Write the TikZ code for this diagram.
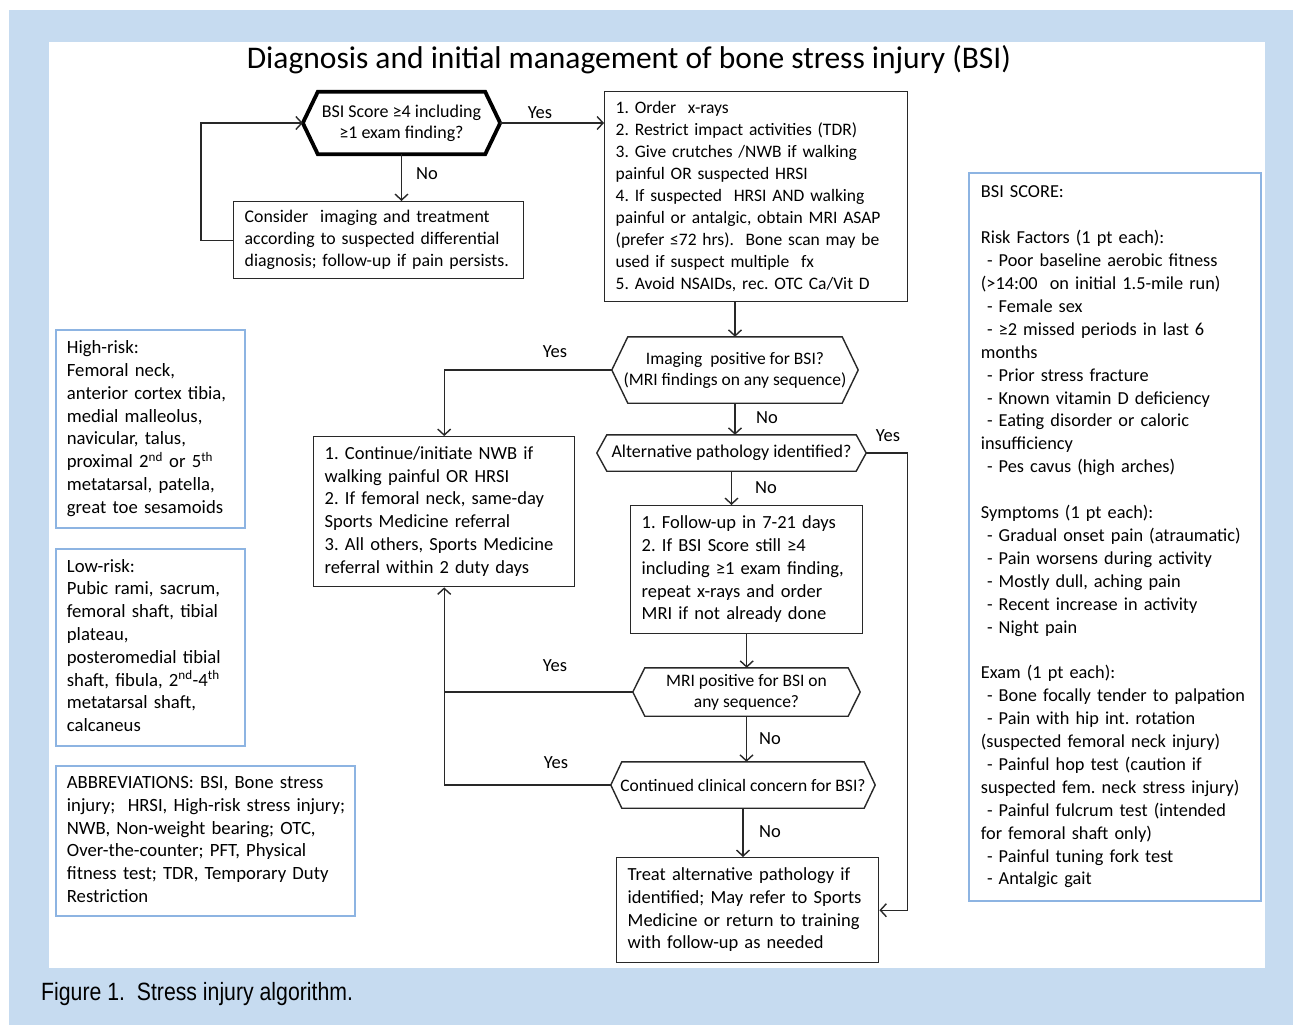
\documentclass[tikz,border=0pt]{standalone}
\usepackage{fontspec}
\setmainfont{Carlito}
\newfontfamily\capfont[FakeStretch=0.85]{Liberation Sans}
\usetikzlibrary{arrows.meta}
\definecolor{bgblue}{RGB}{198,219,240}
\definecolor{boxblue}{RGB}{141,180,226}
\definecolor{ink}{RGB}{40,40,40}
\frenchspacing
\newcommand{\hexline}[3][]{\draw[ink,line width=1.4pt,#1] ([xshift=#3]#2.north west) -- ([xshift=-#3]#2.north east) -- (#2.east) -- ([xshift=-#3]#2.south east) -- ([xshift=#3]#2.south west) -- (#2.west) -- cycle;}
\newcommand{\blines}[1]{\begin{tabular}{@{}l@{}}#1\end{tabular}}
\begin{document}
\begin{tikzpicture}[x=1pt,y=-1pt,
  box/.style={draw=ink, line width=1.4pt, anchor=north west, align=left, inner xsep=11pt, inner ysep=0pt, font=\fontsize{18.5}{22.8}\selectfont},
  bluebox/.style={box, draw=boxblue, line width=1.8pt, font=\fontsize{18.7}{22.8}\selectfont},
  hexnode/.style={inner sep=0pt, align=center, font=\fontsize{17.5}{21}\selectfont},
  lbl/.style={font=\fontsize{18.5}{20}\selectfont, inner sep=0pt},
  conn/.style={draw=ink, line width=1.4pt},
  arr/.style={conn, -{Straight Barb[length=6pt,width=13pt]}}]
\useasboundingbox (0,0) rectangle (1293,1025);
\fill[bgblue] (9,10) rectangle (1293,1025);
\fill[white] (49,42) rectangle (1265,968);

\node[anchor=base, font=\fontsize{31.5}{36}\selectfont, inner sep=0pt] (title) at (629,68) {Diagnosis and initial management of bone stress injury (BSI)};

% top decision
\node[hexnode, minimum width=197pt, minimum height=62pt, font=\fontsize{18}{21}\selectfont] (h1) at (401.5,123) {BSI Score ≥4 including\\≥1 exam finding?};
\hexline[line width=3.8pt,black]{h1}{15}

\node[box, font=\fontsize{17.5}{22}\selectfont, text width=281pt, minimum height=210pt] (b1) at (604,91) {\blines{1. Order\ \ x-rays\\2. Restrict impact activities (TDR)\\3. Give crutches /NWB if walking\\painful OR suspected HRSI\\4. If suspected\ \ HRSI AND walking\\painful or antalgic, obtain MRI ASAP\\(prefer ≤72 hrs).\ \ Bone scan may be\\used if suspect multiple\ \ fx\\5. Avoid NSAIDs, rec. OTC Ca/Vit D}};

\node[box, font=\fontsize{17.8}{22}\selectfont, text width=268pt, minimum height=77pt] (cons) at (233,201) {\blines{Consider\ \ imaging and treatment\\according to suspected differential\\diagnosis; follow-up if pain persists.}};

% imaging decision
\node[hexnode] (img) at (735,370) [minimum width=246pt, minimum height=66pt] {Imaging\ \ positive for BSI?\\(MRI findings on any sequence)};
\hexline{img}{16}

\node[hexnode, font=\fontsize{18}{20}\selectfont] (alt) at (731.5,453) [minimum width=269pt, minimum height=36pt] {Alternative pathology identified?};
\hexline{alt}{10}

\node[box, text width=239pt, minimum height=150pt] (cont) at (313,436) {\blines{1. Continue/initiate NWB if\\walking painful OR HRSI\\2. If femoral neck, same-day\\Sports Medicine referral\\3. All others, Sports Medicine\\referral within 2 duty days}};

\node[box, text width=210pt, minimum height=128pt] (fup) at (630,505) {\blines{1. Follow-up in 7-21 days\\2. If BSI Score still ≥4\\including ≥1 exam finding,\\repeat x-rays and order\\MRI if not already done}};

\node[hexnode] (mri) at (746.5,692) [minimum width=227pt, minimum height=48pt] {MRI positive for BSI on\\any sequence?};
\hexline{mri}{12}

\node[hexnode] (ccc) at (743,785) [minimum width=264pt, minimum height=46pt] {Continued clinical concern for BSI?};
\hexline{ccc}{11}

\node[box, text width=240pt, minimum height=105pt] (treat) at (616,857) {\blines{Treat alternative pathology if\\identified; May refer to Sports\\Medicine or return to training\\with follow-up as needed}};

% left blue boxes
\node[bluebox, text width=167pt, minimum height=198pt] (high) at (55,329) {\blines{High-risk:\\Femoral neck,\\anterior cortex tibia,\\medial malleolus,\\navicular, talus,\\proximal 2\textsuperscript{nd} or 5\textsuperscript{th}\\metatarsal, patella,\\great toe sesamoids}};

\node[bluebox, text width=167pt, minimum height=197pt] (low) at (55,548) {\blines{Low-risk:\\Pubic rami, sacrum,\\femoral shaft, tibial\\plateau,\\posteromedial tibial\\shaft, fibula, 2\textsuperscript{nd}-4\textsuperscript{th}\\metatarsal shaft,\\calcaneus}};

\node[bluebox, text width=277pt, minimum height=150pt] (abbr) at (55,765) {\blines{ABBREVIATIONS: BSI, Bone stress\\injury;\ \ HRSI, High-risk stress injury;\\NWB, Non-weight bearing; OTC,\\Over-the-counter; PFT, Physical\\fitness test; TDR, Temporary Duty\\Restriction}};

% right blue box
\node[bluebox, font=\fontsize{18.3}{22.9}\selectfont, inner xsep=12pt, text width=268pt, minimum height=728pt] (score) at (968,172) {\blines{BSI SCORE:\\~\\Risk Factors (1 pt each):\\\ - Poor baseline aerobic fitness\\(>14:00\ \ on initial 1.5-mile run)\\\ - Female sex\\\ - ≥2 missed periods in last 6\\months\\\ - Prior stress fracture\\\ - Known vitamin D deficiency\\\ - Eating disorder or caloric\\insufficiency\\\ - Pes cavus (high arches)\\~\\Symptoms (1 pt each):\\\ - Gradual onset pain (atraumatic)\\\ - Pain worsens during activity\\\ - Mostly dull, aching pain\\\ - Recent increase in activity\\\ - Night pain\\~\\Exam (1 pt each):\\\ - Bone focally tender to palpation\\\ - Pain with hip int. rotation\\(suspected femoral neck injury)\\\ - Painful hop test (caution if\\suspected fem. neck stress injury)\\\ - Painful fulcrum test (intended\\for femoral shaft only)\\\ - Painful tuning fork test\\\ - Antalgic gait}};

% connectors
\draw[arr] (h1.east) -- (h1.east -| b1.west);
\draw[arr] (h1.south) -- (h1.south |- cons.north);
\draw[arr] (cons.west) -- ++(-32,0) |- (h1.west);
\draw[arr] (img.north |- b1.south) -- (img.north);
\draw[arr] (img.west) -| (cont.north);
\draw[arr] (img.south) -- (img.south |- alt.north);
\draw[arr] (alt.east) -- ++(41,0) |- (treat.east);
\draw[arr] (alt.south) -- (alt.south |- fup.north);
\draw[arr] (fup.south) -- (fup.south |- mri.north);
\draw[conn] (mri.west) -- (mri.west -| cont.south);
\draw[arr] (mri.south) -- (mri.south |- ccc.north);
\draw[arr] (ccc.west) -| (cont.south);
\draw[arr] (ccc.south) -- (ccc.south |- treat.north);

% labels
\node[lbl] (l1) at (540,113) {Yes};
\node[lbl] (l2) at (427,174) {No};
\node[lbl] (l3) at (555,352) {Yes};
\node[lbl] (l4) at (767,418) {No};
\node[lbl] (l5) at (888,436) {Yes};
\node[lbl] (l6) at (766,488) {No};
\node[lbl] (l7) at (555,666) {Yes};
\node[lbl] (l8) at (770,739) {No};
\node[lbl] (l9) at (556,763) {Yes};
\node[lbl] (l10) at (770,832) {No};

\node[anchor=base west, inner sep=0pt, font=\capfont\fontsize{25}{28}\selectfont] (cap) at (41,1000) {Figure 1.\ \ Stress injury algorithm.};
\end{tikzpicture}
\end{document}
